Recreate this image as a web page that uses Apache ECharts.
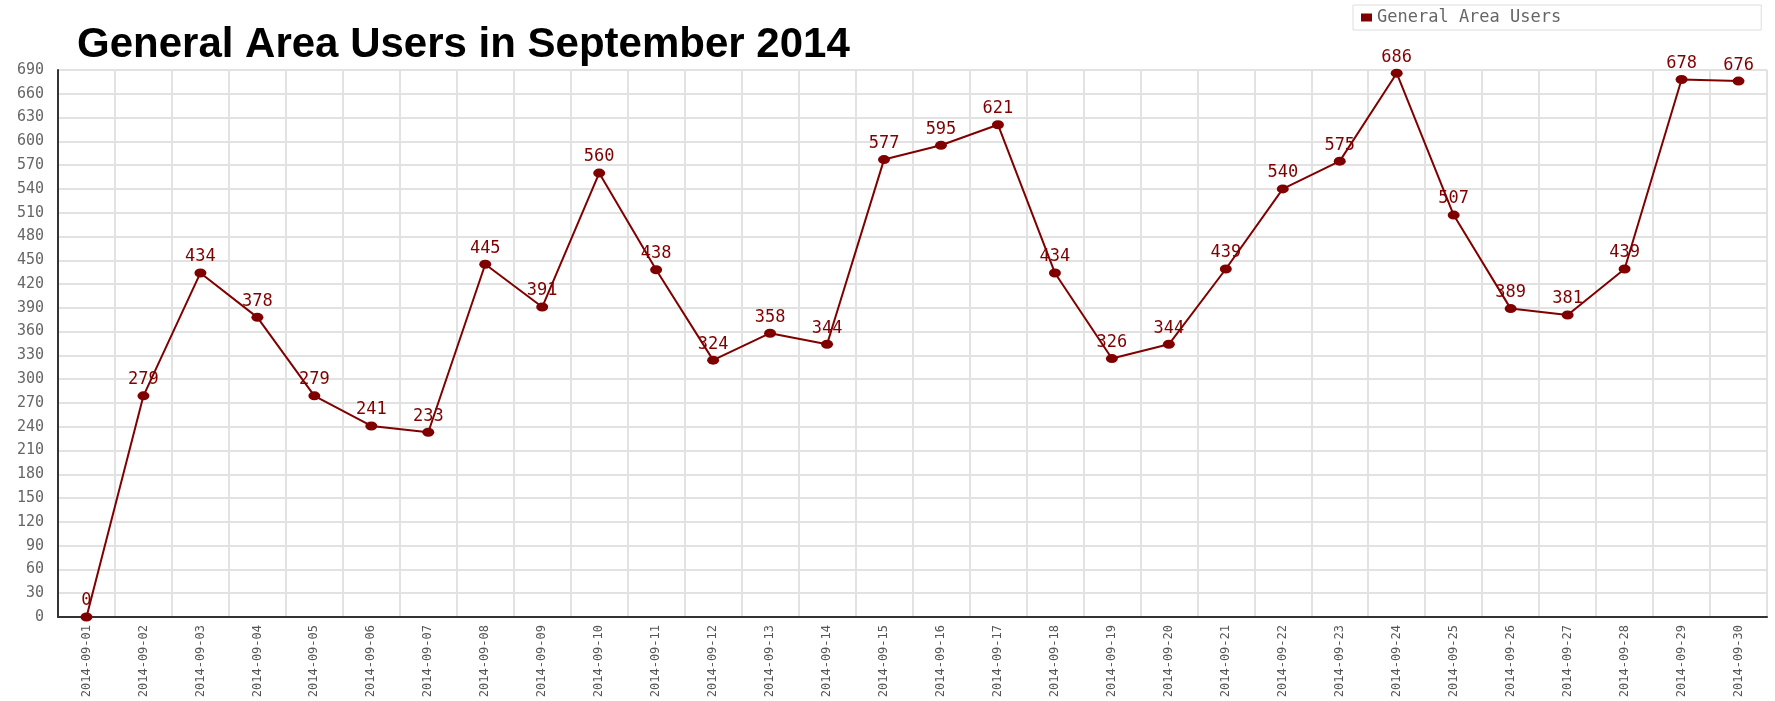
<!DOCTYPE html>
<html>
<head>
    <meta charset="UTF-8">
    <title>General Area Users in September 2014</title>
    <script src="https://cdn.jsdelivr.net/npm/echarts@6/dist/echarts.min.js"></script>
    <style>
        html, body { margin: 0; padding: 0; background: #fff; }
    </style>
</head>
<body>
<!-- chart container -->
<div id="main" style="width: 1775px;height:701px;"></div>

<script type="text/javascript">
    // data
    var days = ['2014-09-01', '2014-09-02', '2014-09-03', '2014-09-04', '2014-09-05',
        '2014-09-06', '2014-09-07', '2014-09-08', '2014-09-09', '2014-09-10',
        '2014-09-11', '2014-09-12', '2014-09-13', '2014-09-14', '2014-09-15',
        '2014-09-16', '2014-09-17', '2014-09-18', '2014-09-19', '2014-09-20',
        '2014-09-21', '2014-09-22', '2014-09-23', '2014-09-24', '2014-09-25',
        '2014-09-26', '2014-09-27', '2014-09-28', '2014-09-29', '2014-09-30'];
    var users = [0, 279, 434, 378, 279, 241, 233, 445, 391, 560,
        438, 324, 358, 344, 577, 595, 621, 434, 326, 344,
        439, 540, 575, 686, 507, 389, 381, 439, 678, 676];
    var seriesName = 'General Area Users';
    var yMin = 0, yMax = 690, yStep = 30;

    var mono = '"DejaVu Sans Mono", "Liberation Mono", monospace';
    var maroon = '#800000';

    var myChart = echarts.init(document.getElementById('main'));

    var option = {
        animation: false,
        title: {
            text: 'General Area Users in September 2014',
            left: 72,
            top: 19,
            textStyle: {
                fontFamily: '"Liberation Sans Narrow", "Liberation Sans", Arial, sans-serif',
                fontWeight: 'bold',
                fontSize: 42,
                color: '#000'
            }
        },
        legend: {
            data: [seriesName],
            left: 1353,
            top: 5,
            padding: [4, 200, 4, 8],
            borderColor: '#dddddd',
            borderWidth: 1,
            itemWidth: 11,
            itemHeight: 8,
            icon: 'rect',
            textStyle: {
                fontFamily: mono,
                fontSize: 17,
                color: '#666'
            }
        },
        grid: {
            left: 58,
            right: 8,
            top: 70,
            bottom: 84
        },
        xAxis: {
            type: 'category',
            data: days,
            boundaryGap: true,
            axisLine: { lineStyle: { color: '#333', width: 2 } },
            axisTick: { show: false },
            axisLabel: {
                interval: 0,
                rotate: 90,
                margin: 8,
                fontFamily: mono,
                fontSize: 12,
                color: '#555'
            },
            splitLine: {
                show: true,
                interval: 0,
                lineStyle: { color: '#e2e2e2', width: 2 }
            }
        },
        yAxis: {
            type: 'value',
            min: yMin,
            max: yMax,
            interval: yStep,
            axisLine: { show: true, lineStyle: { color: '#333', width: 2 } },
            axisTick: { show: false },
            axisLabel: {
                margin: 14,
                fontFamily: mono,
                fontSize: 15,
                color: '#666'
            },
            splitLine: {
                lineStyle: { color: '#e2e2e2', width: 2 }
            }
        },
        series: [
            {
                name: seriesName,
                type: 'line',
                data: users,
                symbol: 'circle',
                symbolSize: [12, 9],
                itemStyle: { color: maroon },
                lineStyle: { color: maroon, width: 2 },
                label: {
                    show: true,
                    position: 'top',
                    distance: 3,
                    fontFamily: mono,
                    fontSize: 17,
                    color: maroon
                }
            }
        ]
    };

    myChart.setOption(option);
</script>
</body>
</html>
